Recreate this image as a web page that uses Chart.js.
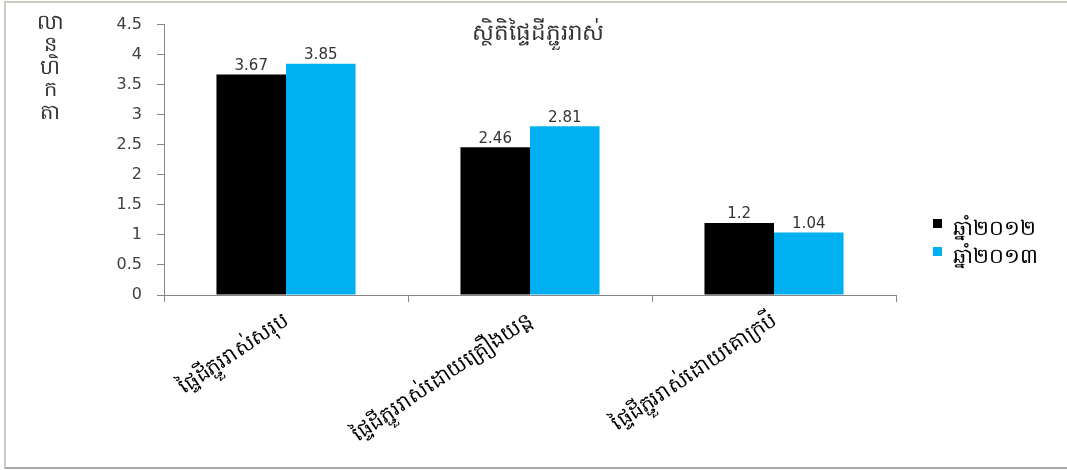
<!DOCTYPE html>
<html>
<head>
<meta charset="utf-8">
<script src="https://cdn.jsdelivr.net/npm/chart.js@4"></script>
<style>
  body { margin: 0; background: #fff; }
  #wrap { position: relative; width: 1067px; height: 470px; overflow: hidden; }
  #frame { position: absolute; left: 4px; top: 1px; right: -10px; bottom: 1px;
           border: 2px solid #cdc9c0; border-bottom: 2px solid #a9a9a9; pointer-events: none; }
  canvas { position: absolute; left: 0; top: 0; }
</style>
</head>
<body>
<div id="wrap">
  <canvas id="chart" width="1067" height="470"></canvas>
  <div id="frame"></div>
</div>
<script>
const categories = ["ផ្ទៃដីភ្ជួររាស់សរុប", "ផ្ទៃដីភ្ជួររាស់ដោយគ្រឿងយន្ត", "ផ្ទៃដីភ្ជួររាស់ដោយគោក្របី"];
const seriesNames = ["ឆ្នាំ២០១២", "ឆ្នាំ២០១៣"];
const values2012 = [3.67, 2.46, 1.2];
const values2013 = [3.85, 2.81, 1.04];
const yTicks = [0, 0.5, 1, 1.5, 2, 2.5, 3, 3.5, 4, 4.5];
const titleText = "ស្ថិតិផ្ទៃដីភ្ជួររាស់";
const yTitleParts = ["លា", "ន", "ហិ", "ក", "តា"];

const FONT = "'Noto Sans', 'DejaVu Sans', sans-serif";
const NUM_FONT = "'DejaVu Sans', sans-serif";
const axisGray = "#868686";

// title, stacked y title, value labels and legend
const extras = {
  id: "extras",
  afterDraw(chart) {
    const ctx = chart.ctx;
    ctx.save();
    ctx.textAlign = "center";
    ctx.textBaseline = "middle";

    ctx.fillStyle = "#333";
    ctx.font = "23px " + FONT;
    ctx.fillText(titleText, 538, 33);

    ctx.font = "21px " + FONT;
    yTitleParts.forEach((p, i) => ctx.fillText(p, 50, 23 + i * 22.5));

    ctx.font = "15px " + NUM_FONT;
    ctx.textBaseline = "bottom";
    chart.data.datasets.forEach((ds, di) => {
      chart.getDatasetMeta(di).data.forEach((bar, i) => {
        ctx.fillText(String(ds.data[i]), bar.x, bar.y - 1);
      });
    });

    ctx.textAlign = "left";
    ctx.textBaseline = "middle";
    ctx.font = "21px " + FONT;
    chart.data.datasets.forEach((ds, di) => {
      const y = 229 + di * 28;
      ctx.fillStyle = ds.backgroundColor;
      ctx.fillRect(933, y - 10, 9, 9);
      ctx.fillStyle = "#000";
      ctx.fillText(ds.label, 953, y);
    });
    ctx.restore();
  }
};

new Chart(document.getElementById("chart"), {
  type: "bar",
  data: {
    labels: categories,
    datasets: [
      { label: seriesNames[0], data: values2012, backgroundColor: "#000000" },
      { label: seriesNames[1], data: values2013, backgroundColor: "#00b0f0" }
    ]
  },
  options: {
    responsive: false,
    animation: false,
    layout: { padding: { top: 24, right: 171, bottom: 0, left: 0 } },
    datasets: { bar: { categoryPercentage: 0.57, barPercentage: 1 } },
    plugins: { legend: { display: false }, tooltip: { enabled: false } },
    scales: {
      x: {
        afterFit: s => { s.height = 175; },
        grid: { drawOnChartArea: false, color: axisGray, tickLength: 7 },
        border: { color: axisGray },
        ticks: { minRotation: 34, maxRotation: 34, color: "#000", font: { family: FONT, size: 21 }, padding: 6 }
      },
      y: {
        min: 0,
        max: 4.5,
        afterFit: s => { s.width = 164; },
        afterBuildTicks: s => { s.ticks = yTicks.map(v => ({ value: v })); },
        grid: { drawOnChartArea: false, color: axisGray, tickLength: 7 },
        border: { color: axisGray },
        ticks: { color: "#404040", font: { family: NUM_FONT, size: 16 }, padding: 15, callback: v => String(v) }
      }
    }
  },
  plugins: [extras]
});
</script>
</body>
</html>
